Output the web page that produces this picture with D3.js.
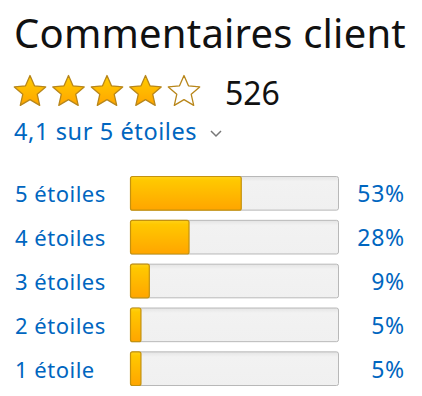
<!DOCTYPE html>
<html>
<head>
<meta charset="utf-8">
<script src="https://cdn.jsdelivr.net/npm/d3@7"></script>
<style>
  body { margin: 0; background: #fff; }
  text { font-family: "Noto Sans", "Open Sans", sans-serif; }
</style>
</head>
<body>
<div id="chart"></div>
<script>
// review data
var title = "Commentaires client";
var rating = 4.1;
var reviewCount = 526;
var ratingText = "4,1 sur 5 étoiles";
var starLabels = ["5 étoiles", "4 étoiles", "3 étoiles", "2 étoiles", "1 étoile"];
var percents = [53, 28, 9, 5, 5];

var width = 422, height = 396;
var blue = "#0066c0";

var svg = d3.select("#chart")
  .append("svg")
    .attr("width", width)
    .attr("height", height);

var defs = svg.append("defs");

// gradient for filled bars and stars
var grad = defs.append("linearGradient")
    .attr("id", "gold")
    .attr("x1", 0).attr("y1", 0).attr("x2", 0).attr("y2", 1);
grad.append("stop").attr("offset", "0%").attr("stop-color", "#ffd21a");
grad.append("stop").attr("offset", "12%").attr("stop-color", "#ffc800");
grad.append("stop").attr("offset", "100%").attr("stop-color", "#ffa500");

var track = defs.append("linearGradient")
    .attr("id", "track")
    .attr("x1", 0).attr("y1", 0).attr("x2", 0).attr("y2", 1);
track.append("stop").attr("offset", "0%").attr("stop-color", "#e4e4e4");
track.append("stop").attr("offset", "15%").attr("stop-color", "#f2f2f2");
track.append("stop").attr("offset", "100%").attr("stop-color", "#f0f0f0");

// title
svg.append("text")
    .attr("x", 14)
    .attr("y", 48)
    .style("font-size", "40px")
    .style("letter-spacing", "0.2px")
    .attr("fill", "#111")
    .text(title);

// stars
var starX = d3.scaleLinear().domain([0, 4]).range([30, 184]);

function starPath(cx, cy, R, r) {
  var pts = [];
  for (var i = 0; i < 10; i++) {
    var rad = i % 2 == 0 ? R : r;
    var a = -Math.PI / 2 + i * Math.PI / 5;
    pts.push([cx + rad * Math.cos(a), cy + rad * Math.sin(a)]);
  }
  return "M" + pts.join("L") + "Z";
}

var shown = Math.round(rating * 2) / 2;
svg.selectAll(".star")
  .data(d3.range(5))
  .enter()
  .append("path")
    .attr("class", "star")
    .attr("d", function(d) { return starPath(starX(d), 92, 16.5, 7.6); })
    .attr("fill", function(d) { return d < shown ? "url(#gold)" : "#fff"; })
    .attr("stroke", "#b8861a")
    .attr("stroke-width", 1.3)
    .attr("stroke-linejoin", "round");

svg.append("text")
    .attr("x", 225)
    .attr("y", 105)
    .style("font-size", "32px")
    .attr("fill", "#111")
    .text(reviewCount);

svg.append("text")
    .attr("x", 14)
    .attr("y", 140)
    .style("font-size", "23.5px")
    .style("letter-spacing", "0.6px")
    .attr("fill", blue)
    .text(ratingText);

// little chevron
svg.append("path")
    .attr("d", "M211,131 L216,136 L221,131")
    .attr("fill", "none")
    .attr("stroke", "#777")
    .attr("stroke-width", 1.5);

// histogram
var x = d3.scaleLinear().domain([0, 100]).range([130, 339]);
var y = d3.scaleBand()
    .domain(starLabels)
    .range([176, 386])
    .paddingInner(0.21)
    .paddingOuter(0);

var rows = svg.selectAll(".row")
  .data(starLabels)
  .enter()
  .append("g")
    .attr("class", "row");

rows.append("rect")
    .attr("x", x(0) + 0.5)
    .attr("y", function(d) { return y(d) + 0.5; })
    .attr("width", x(100) - x(0) - 1)
    .attr("height", y.bandwidth() - 1)
    .attr("rx", 2)
    .attr("fill", "url(#track)")
    .attr("stroke", "#b8b8b8");

rows.append("rect")
    .attr("x", x(0) + 0.5)
    .attr("y", function(d) { return y(d) + 0.5; })
    .attr("width", function(d, i) { return x(percents[i]) - x(0); })
    .attr("height", y.bandwidth() - 1)
    .attr("rx", 2)
    .attr("fill", "url(#gold)")
    .attr("stroke", "#c4920f")
    .attr("stroke-width", 1.2);

rows.append("text")
    .attr("x", 15)
    .attr("y", function(d) { return y(d) + y.bandwidth() / 2 + 9; })
    .style("font-size", "22px")
    .style("letter-spacing", "0.5px")
    .attr("fill", blue)
    .text(function(d) { return d; });

rows.append("text")
    .attr("x", 405)
    .attr("y", function(d) { return y(d) + y.bandwidth() / 2 + 9; })
    .attr("text-anchor", "end")
    .style("font-size", "23px")
    .style("letter-spacing", "0.8px")
    .attr("fill", blue)
    .text(function(d, i) { return percents[i] + "%"; });
</script>
</body>
</html>
